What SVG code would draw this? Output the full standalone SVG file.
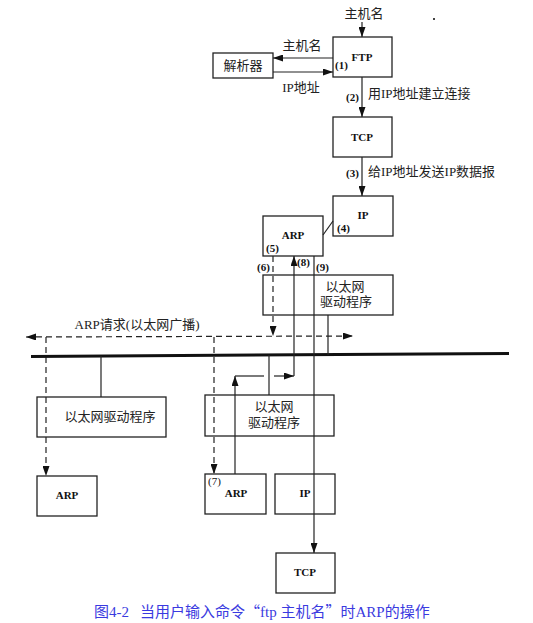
<svg xmlns="http://www.w3.org/2000/svg" width="533" height="623" viewBox="0 0 533 623">
<style>
.box{fill:none;stroke:#222;stroke-width:1.3}
.ln{fill:none;stroke:#222;stroke-width:1.2}
.dash{fill:none;stroke:#222;stroke-width:1.2;stroke-dasharray:6,4}
.lbl{font-family:"Liberation Serif","Noto Sans CJK SC",serif;font-weight:bold;font-size:11px;fill:#111;text-anchor:middle}
.num{font-family:"Liberation Serif",serif;font-weight:bold;font-size:11px;fill:#111}
.cn{font-family:"Liberation Serif","Noto Sans CJK SC",serif;font-size:13px;fill:#222;text-anchor:middle}
.cap{font-family:"Liberation Serif","Noto Sans CJK SC",serif;font-size:15px;fill:#3a3ae0}
.q{font-family:"Noto Sans CJK SC",sans-serif}
</style>
<defs>
<marker id="ah" markerUnits="userSpaceOnUse" markerWidth="10" markerHeight="7" refX="10" refY="3.5" orient="auto">
<path d="M0,0 L10,3.5 L0,7 z" fill="#111"/>
</marker>
<marker id="ahs" markerUnits="userSpaceOnUse" markerWidth="10" markerHeight="7" refX="0" refY="3.5" orient="auto">
<path d="M10,0 L0,3.5 L10,7 z" fill="#111"/>
</marker>
</defs>
<rect width="533" height="623" fill="#fff"/>

<g id="connectors">
<line class="ln" x1="362" y1="22" x2="362" y2="37" marker-end="url(#ah)"/>
<line class="ln" x1="333" y1="58" x2="273" y2="58" marker-end="url(#ah)"/>
<line class="ln" x1="273" y1="72" x2="333" y2="72" marker-end="url(#ah)"/>
<line class="ln" x1="362" y1="77" x2="362" y2="117" marker-end="url(#ah)"/>
<line class="ln" x1="362" y1="157" x2="362" y2="196" marker-end="url(#ah)"/>
<line class="ln" x1="323" y1="235" x2="333" y2="221"/>
<line class="dash" x1="273" y1="256" x2="273" y2="336" marker-end="url(#ah)"/>
<line class="dash" x1="26" y1="337" x2="353" y2="336" marker-start="url(#ahs)" marker-end="url(#ah)"/>
<line class="dash" x1="46" y1="337" x2="46" y2="476" marker-end="url(#ah)"/>
<line class="dash" x1="214" y1="337" x2="214" y2="474" marker-end="url(#ah)"/>
<line x1="31" y1="356.5" x2="509" y2="353.5" stroke="#111" stroke-width="3"/>
<line class="ln" x1="328" y1="315" x2="328" y2="355"/>
<line class="ln" x1="101" y1="356" x2="101" y2="397"/>
<line class="ln" x1="269" y1="355" x2="269" y2="395"/>
<line class="ln" x1="235" y1="474" x2="235" y2="376" marker-end="url(#ah)"/>
<line class="ln" x1="235" y1="376" x2="264" y2="376"/>
<line class="ln" x1="274" y1="376" x2="294" y2="376" marker-end="url(#ah)"/>
<line class="ln" x1="294" y1="376" x2="294" y2="256" marker-end="url(#ah)"/>
<line class="ln" x1="314" y1="256" x2="314" y2="553" marker-end="url(#ah)"/>
</g>

<g id="top-label"><text class="cn" x="364" y="18">主机名</text></g>
<g id="ftp"><rect class="box" x="333" y="37" width="59" height="40"/><text class="lbl" x="362" y="61">FTP</text><text class="num" x="335" y="69">(1)</text></g>
<g id="resolver"><rect class="box" x="213" y="53" width="60" height="25"/><text class="cn" x="243" y="70">解析器</text></g>
<g id="resolver-labels"><text class="cn" x="302" y="50">主机名</text><text class="cn" x="301" y="92">IP地址</text></g>
<g id="step2"><text class="num" x="346" y="101">(2)</text><text class="cn" x="368" y="98" style="text-anchor:start">用IP地址建立连接</text></g>
<g id="tcp"><rect class="box" x="333" y="117" width="59" height="40"/><text class="lbl" x="362" y="141">TCP</text></g>
<g id="step3"><text class="num" x="346" y="177">(3)</text><text class="cn" x="368" y="176" style="text-anchor:start">给IP地址发送IP数据报</text></g>
<g id="ip"><rect class="box" x="333" y="196" width="60" height="40"/><text class="lbl" x="363" y="219">IP</text><text class="num" x="337" y="232">(4)</text></g>
<g id="arp"><rect class="box" x="263" y="216" width="60" height="40"/><text class="lbl" x="293" y="239">ARP</text><text class="num" x="266" y="252">(5)</text></g>
<g id="step-labels"><text class="num" x="257" y="271">(6)</text><text class="num" x="297" y="266">(8)</text><text class="num" x="316" y="271">(9)</text></g>
<g id="eth-driver-top"><rect class="box" x="263" y="275" width="130" height="40"/><text class="cn" x="345" y="291">以太网</text><text class="cn" x="346" y="306">驱动程序</text></g>
<g id="broadcast-label"><text class="cn" x="137" y="329">ARP请求(以太网广播)</text></g>
<g id="eth-driver-left"><rect class="box" x="37" y="397" width="129" height="40"/><text class="cn" x="110" y="421">以太网驱动程序</text></g>
<g id="eth-driver-mid"><rect class="box" x="205" y="395" width="129" height="41"/><text class="cn" x="274" y="411">以太网</text><text class="cn" x="274" y="427">驱动程序</text></g>
<g id="arp-left"><rect class="box" x="37" y="476" width="60" height="40"/><text class="lbl" x="67" y="499">ARP</text></g>
<g id="arp-mid"><rect class="box" x="205" y="474" width="61" height="40"/><text class="lbl" x="236" y="497">ARP</text><text class="num" x="208" y="485" style="font-weight:normal">(7)</text></g>
<g id="ip-mid"><rect class="box" x="275" y="474" width="60" height="40"/><text class="lbl" x="305" y="497">IP</text></g>
<g id="tcp-bottom"><rect class="box" x="276" y="553" width="59" height="40"/><text class="lbl" x="305" y="576">TCP</text></g>
<g id="speck"><rect x="433" y="18" width="2" height="2" fill="#444"/></g>
<g id="caption"><text class="cap" x="94" y="617">图4-2<tspan x="140">当用户输入命令</tspan><tspan class="q">“</tspan>ftp 主机名<tspan class="q">”</tspan>时ARP的操作</text></g>
</svg>
